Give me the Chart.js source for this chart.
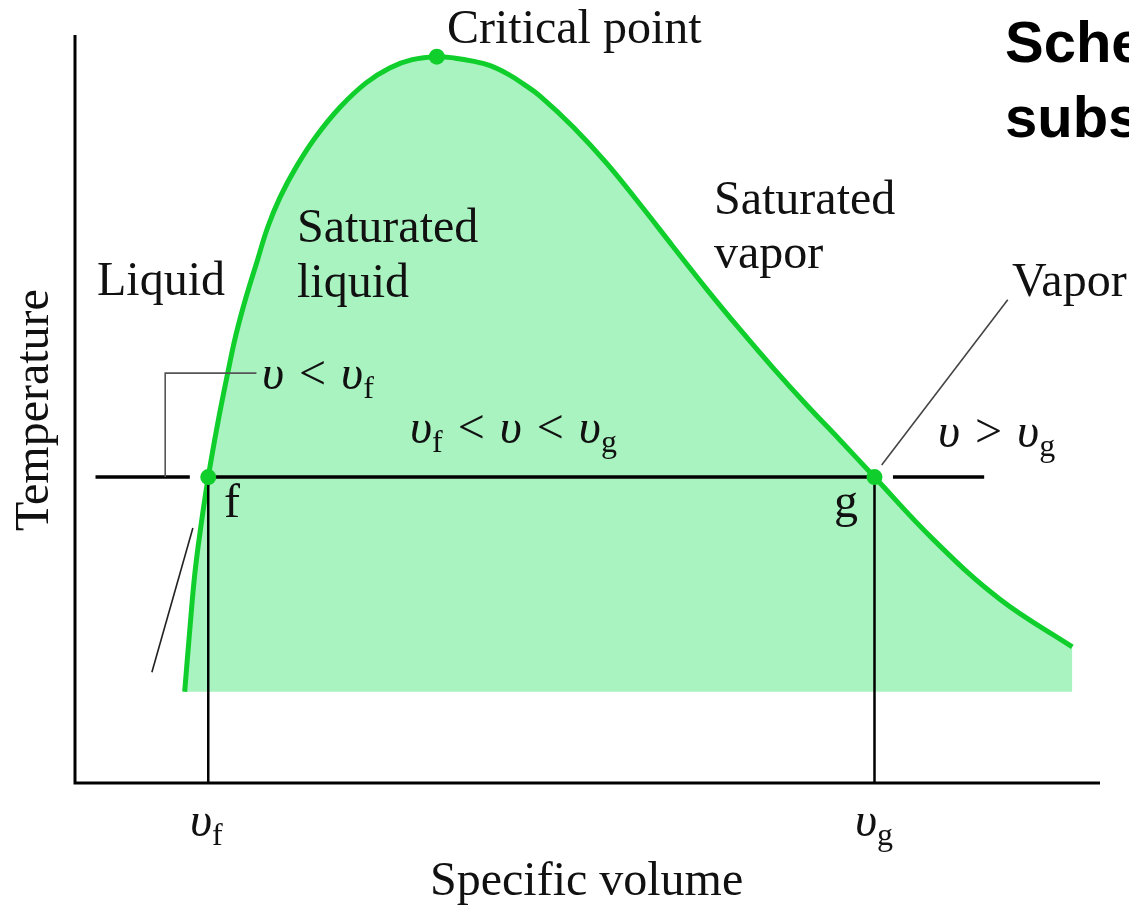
<!DOCTYPE html>
<html>
<head>
<meta charset="utf-8">
<script src="https://cdn.jsdelivr.net/npm/chart.js@4.4.1/dist/chart.umd.min.js"></script>
<style>
  html, body { margin: 0; padding: 0; background: #fff; }
  #wrap { width: 1129px; height: 908px; position: relative; }
</style>
</head>
<body>
<div id="wrap"><canvas id="chart"></canvas></div>
<script>
// T-v saturation dome (arbitrary units, 0..100 on both axes)
var dome_v = [10.7, 11.2, 11.7, 12.3, 13.0, 13.9, 14.9, 15.7, 16.7, 17.8, 18.8, 20.0, 21.6, 23.5, 25.9, 28.4, 30.7, 32.9,
  35.3, 37.1, 38.8, 40.5, 42.2, 43.7, 45.4, 48.6, 51.9, 55.1, 58.3, 61.7, 64.9, 68.1, 71.4, 74.6, 78.0, 83.7, 90.2, 97.3];
var dome_T = [12.2, 20.5, 28.1, 34.5, 40.9, 47.9, 54.8, 59.9, 65.0, 69.9, 74.3, 78.3, 82.4, 86.4, 90.4, 93.6, 95.6, 96.7,
  97.1, 96.9, 96.5, 95.9, 94.8, 93.5, 91.8, 87.7, 82.8, 77.4, 71.8, 65.9, 60.6, 55.5, 50.5, 45.9, 40.9, 32.6, 24.6, 18.2];
var T_fill_base = 12.2;   // shading stops here

var T_sat = 40.9;
var v_f = 13.0;
var v_g = 78.0;
var v_crit = 35.3;
var T_crit = 97.1;
var v_max = 100;
var T_max = 100;

// constant temperature line, broken next to f and g
var tie_left_v = [2.0, 11.2];
var tie_mid_v = [13.0, 78.0];
var tie_right_v = [79.8, 88.7];

// leader lines for the labels
var bracket_v = [8.8, 8.8, 17.7];
var bracket_T = [40.9, 54.8, 54.8];
var liq_leader_v = [11.5, 7.5];
var liq_leader_T = [34.1, 14.8];
var vap_leader_v = [78.7, 91.0];
var vap_leader_T = [42.5, 64.6];

var GREEN = '#10cf2c';
var GREEN_FILL = '#a8f3c0';
var SERIF = '"Liberation Serif", "Times New Roman", serif';
var SANS = '"Liberation Sans", Arial, sans-serif';

function pts(xs, ys) {
  return xs.map(function (x, i) { return { x: x, y: ys[i] }; });
}
function flat(xs, y) {
  return xs.map(function (x) { return { x: x, y: y }; });
}

function lineSet(data, colour, width, order) {
  return {
    data: data, showLine: true, borderColor: colour, borderWidth: width,
    pointRadius: 0, fill: false, tension: 0, clip: false, order: order
  };
}

//draw a run of text pieces one after another (for subscripts)
function put(ctx, parts, x, y) {
  parts.forEach(function (p) {
    ctx.font = (p.it ? 'italic ' : '') + (p.b ? 'bold ' : '') + p.s + 'px ' + (p.f || SERIF);
    x += p.pad || 0;
    ctx.fillText(p.t, x, y + (p.dy || 0));
    x += ctx.measureText(p.t).width + (p.pad || 0);
  });
}
function V() { return { t: 'υ', it: true, s: 48 }; }
function SUB(t) { return { t: t, s: 32, dy: 9 }; }
function OP(t) { return { t: ' ' + t + ' ', s: 48, pad: 3 }; }

var labels_plugin = {
  id: 'labels',
  afterDraw: function (chart) {
    var ctx = chart.ctx;
    ctx.save();
    ctx.fillStyle = '#111';
    ctx.textBaseline = 'alphabetic';
    ctx.textAlign = 'left';

    put(ctx, [{ t: 'Critical point', s: 48 }], 447, 43);
    put(ctx, [{ t: 'Saturated', s: 48 }], 297, 242);
    put(ctx, [{ t: 'liquid', s: 48 }], 297, 297);
    put(ctx, [{ t: 'Saturated', s: 48 }], 714, 214);
    put(ctx, [{ t: 'vapor', s: 48 }], 714, 268);
    put(ctx, [{ t: 'Liquid', s: 48 }], 97, 295);
    put(ctx, [{ t: 'Vapor', s: 48 }], 1012, 296);
    put(ctx, [{ t: 'f', s: 48 }], 224, 517);
    put(ctx, [{ t: 'g', s: 48 }], 834, 517);

    put(ctx, [V(), OP('<'), V(), SUB('f')], 262, 389);
    put(ctx, [V(), SUB('f'), OP('<'), V(), OP('<'), V(), SUB('g')], 410, 443);
    put(ctx, [V(), OP('>'), V(), SUB('g')], 938, 447);

    // axis labels
    put(ctx, [V(), SUB('f')], 190, 836);
    put(ctx, [V(), SUB('g')], 855, 836);
    put(ctx, [{ t: 'Specific volume', s: 48 }], 430, 895);

    ctx.save();
    ctx.translate(48, 410);
    ctx.rotate(-Math.PI / 2);
    ctx.textAlign = 'center';
    ctx.font = '48px ' + SERIF;
    ctx.fillText('Temperature', 0, 0);
    ctx.restore();

    // slide title, runs off the right edge
    ctx.fillStyle = '#000';
    put(ctx, [{ t: 'Schematic', s: 58, b: true, f: SANS }], 1005, 62);
    put(ctx, [{ t: 'substance', s: 58, b: true, f: SANS }], 1005, 137);
    ctx.restore();
  }
};

var datasets = [
  // dots at f, g and the critical point
  {
    data: pts([v_f, v_g, v_crit], [T_sat, T_sat, T_crit]), showLine: false,
    pointRadius: 8, pointBackgroundColor: GREEN, pointBorderWidth: 0, clip: false, order: 0
  },
  lineSet(pts([0, 0, v_max], [T_max, 0, 0]), '#000', 3, 1),
  lineSet(pts(bracket_v, bracket_T), '#555', 1.6, 2),
  lineSet(pts(liq_leader_v, liq_leader_T), '#222', 1.6, 2),
  lineSet(pts(vap_leader_v, vap_leader_T), '#444', 1.6, 2),
  lineSet(flat(tie_left_v, T_sat), '#000', 3.5, 3),
  lineSet(flat(tie_mid_v, T_sat), '#000', 3.5, 3),
  lineSet(flat(tie_right_v, T_sat), '#000', 3.5, 3),
  lineSet(pts([v_f, v_f], [T_sat, 0]), '#000', 2.5, 3),
  lineSet(pts([v_g, v_g], [T_sat, 0]), '#000', 2.5, 3),
  // the dome itself
  {
    data: pts(dome_v, dome_T), showLine: true, borderColor: GREEN, borderWidth: 5,
    backgroundColor: GREEN_FILL, fill: { value: T_fill_base },
    tension: 0.4, pointRadius: 0, clip: false, order: 5
  }
];

var chart = new Chart(document.getElementById('chart').getContext('2d'), {
  type: 'scatter',
  data: { datasets: datasets },
  options: {
    animation: false,
    responsive: true,
    maintainAspectRatio: false,
    events: [],
    layout: { padding: { left: 75, right: 29, top: 35, bottom: 125 } },
    scales: {
      x: { type: 'linear', min: 0, max: v_max, display: false },
      y: { type: 'linear', min: 0, max: T_max, display: false }
    },
    plugins: { legend: { display: false }, tooltip: { enabled: false } }
  },
  plugins: [labels_plugin]
});
</script>
</body>
</html>
